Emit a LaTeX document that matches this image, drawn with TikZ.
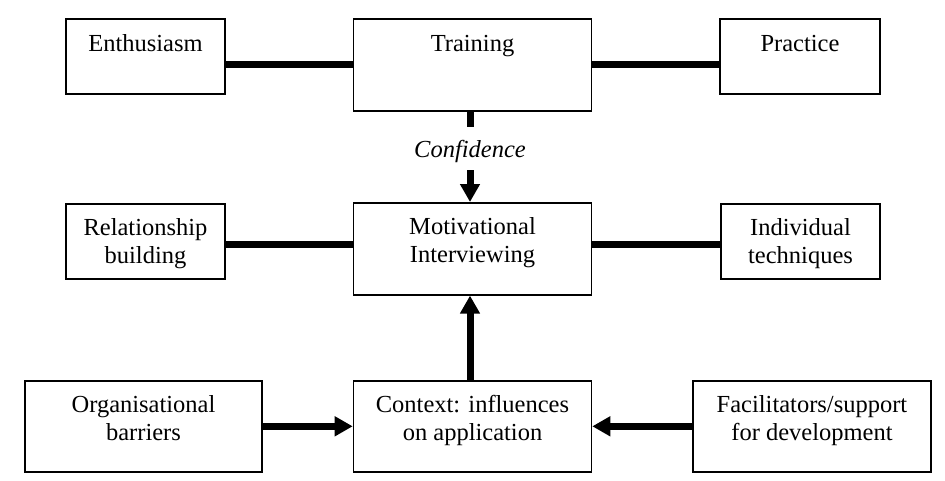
\documentclass[tikz,border=0pt]{standalone}
\usepackage{fontspec}
\setmainfont{Liberation Serif}
\usetikzlibrary{arrows.meta}
\begin{document}
\begin{tikzpicture}[x=1pt,y=-1pt,
  box/.style={draw, line width=1.6pt, inner sep=0pt, anchor=north,
    font=\fontsize{24.5}{28}\selectfont},
  link/.style={line width=7pt},
  arr/.style={line width=7pt, -{Triangle[width=19pt,length=18pt]}},
  lbl/.style={font=\fontsize{24.5}{28}\selectfont\itshape, inner sep=0pt, anchor=base}]
\useasboundingbox[fill=white] (0,0) rectangle (945,480);
\newcommand{\twol}[2]{\begin{tabular}[t]{@{}c@{}}#1\\#2\end{tabular}}
% top row
\node[box, minimum width=159pt, text height=33pt, text depth=42pt] (enth) at (145.5,18) {Enthusiasm};
\node[box, minimum width=238pt, text height=33pt, text depth=59pt] (train) at (472.5,18) {Training};
\node[box, minimum width=160pt, text height=33pt, text depth=42pt] (prac) at (800,18) {Practice};
% middle row
\node[box, minimum width=159pt, text height=32pt, text depth=43pt] (rel) at (145.5,203) {\twol{Relationship}{building}};
\node[box, minimum width=238pt, text height=32pt, text depth=60pt] (mi) at (472.5,202) {\twol{Motivational}{Interviewing}};
\node[box, minimum width=159pt, text height=32pt, text depth=43pt] (ind) at (800.5,203) {\twol{Individual}{techniques}};
% bottom row
\node[box, minimum width=237pt, text height=32pt, text depth=59pt] (org) at (143.5,380) {\twol{Organisational}{barriers}};
\node[box, minimum width=238pt, text height=32pt, text depth=59pt] (ctx) at (472.5,380) {\twol{Context: influences}{on application}};
\node[box, minimum width=238pt, text height=32pt, text depth=59pt] (fac) at (812,380) {\twol{Facilitators/support}{for development}};
% confidence label
\node[lbl] (conf) at (470,157) {Confidence};
\coordinate (stubend) at (470,127);
\coordinate (arrstart) at (470,170);
% connectors
\draw[link] (train.west) -- (train.west -| enth.east);
\draw[link] (train.east) -- (train.east -| prac.west);
\draw[link] ([yshift=-3pt]rel.east) -- ([yshift=-3pt]rel.east -| mi.west);
\draw[link] ([yshift=-3pt]ind.west) -- ([yshift=-3pt]ind.west -| mi.east);
\draw[link] (train.south -| stubend) -- (stubend);
\draw[arr] (arrstart) -- (arrstart |- mi.north);
\draw[arr] (ctx.north -| arrstart) -- (mi.south -| arrstart);
\draw[arr] (org.east) -- (ctx.west);
\draw[arr] (fac.west) -- (ctx.east);
\end{tikzpicture}
\end{document}
